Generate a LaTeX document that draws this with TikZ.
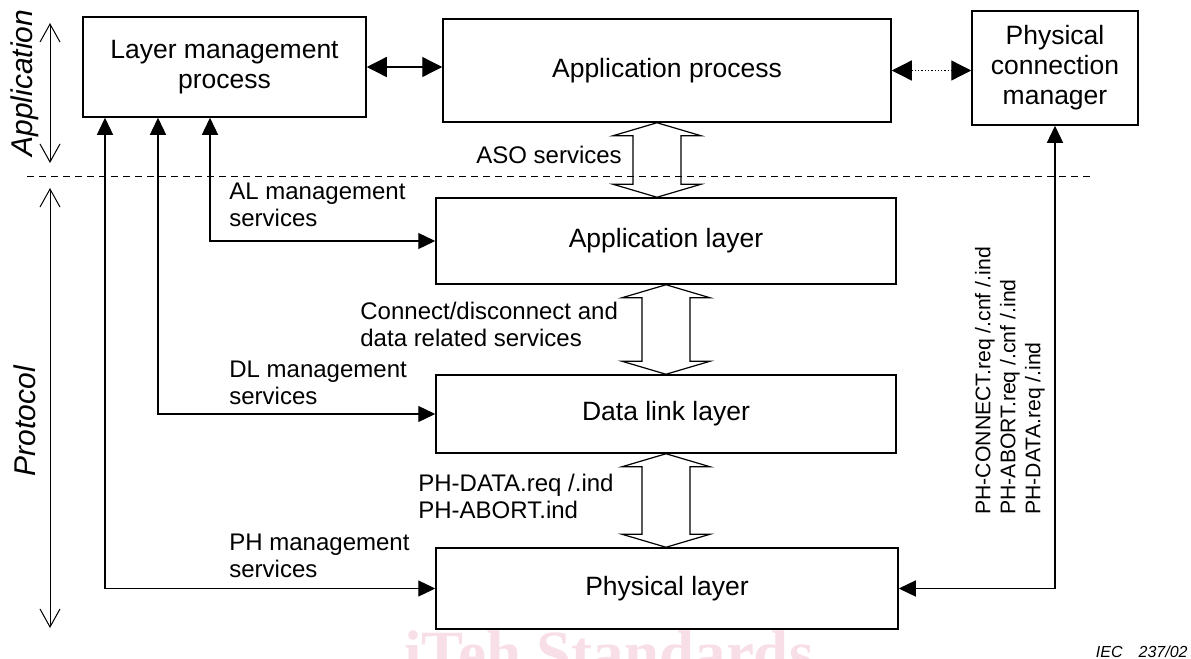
\documentclass[tikz,border=0pt]{standalone}
\usepackage{fontspec}
\setmainfont{Liberation Sans}
\newfontfamily\wmfont{Liberation Serif}
\usetikzlibrary{arrows.meta,calc}

\definecolor{wmpink}{RGB}{248,222,230}

\tikzset{
  box/.style={draw, line width=.75pt, align=center, font=\fontsize{13.25}{15}\selectfont},
  lbl/.style={align=left, inner sep=0pt, anchor=west, font=\fontsize{12}{13.5}\selectfont},
  conn/.style={line width=.65pt, {Triangle[length=8.5pt,width=8pt]}-{Triangle[length=8.5pt,width=8pt]}},
  bigconn/.style={line width=.65pt, {Triangle[length=10pt,width=10pt]}-{Triangle[length=10pt,width=10pt]}},
  side/.style={line width=.5pt, {Straight Barb[length=9pt,width=10pt]}-{Straight Barb[length=9pt,width=10pt]}},
  svcarrow/.style={line width=.6pt},
}

% hollow double arrow between two points (top, bottom)
\newcommand{\servarrow}[2]{%
  \draw[svcarrow] let \p1=(#1), \p2=(#2) in
    (\x1,\y1) -- (\x1+22pt,\y1-6.5pt) -- (\x1+12pt,\y1-6.5pt) -- (\x1+12pt,\y2+6.5pt)
    -- (\x1+22pt,\y2+6.5pt) -- (\x1,\y2) -- (\x1-22pt,\y2+6.5pt) -- (\x1-12pt,\y2+6.5pt)
    -- (\x1-12pt,\y1-6.5pt) -- (\x1-22pt,\y1-6.5pt) -- cycle;}

\begin{document}
\begin{tikzpicture}[x=.5pt,y=-.5pt]
\useasboundingbox (0,0) rectangle (1191,659);
\node[text=wmpink, font=\wmfont\bfseries\fontsize{31.5}{32}\selectfont, anchor=base] (wm) at (609,674) {iTeh Standards};

\node[box, minimum width=141.5pt, minimum height=50pt] (lmp) at (224.5,67) {Layer management\\process};
\node[box, minimum width=224pt, minimum height=51.5pt] (ap) at (667,70.5) {Application process};
\node[box, minimum width=83pt, minimum height=57pt] (pcm) at (1055,68) {Physical\\connection\\manager};
\node[box, minimum width=230pt, minimum height=43pt] (al) at (666,241) {Application layer};
\node[box, minimum width=230pt, minimum height=39pt] (dl) at (666,414) {Data link layer};
\node[box, minimum width=231pt, minimum height=40.5pt] (pl) at (667,588.5) {Physical layer};

% left side
\coordinate (appT) at (50,23);
\coordinate (appB) at (50,163);
\coordinate (proT) at (50,188);
\coordinate (proB) at (50,628);
\draw[side] (appT) -- (appB);
\draw[side] (proT) -- (proB);
\node[rotate=90, font=\fontsize{15}{17}\selectfont\itshape] (appl) at (25,83) {Application};
\node[rotate=90, font=\fontsize{15}{17}\selectfont\itshape] (prol) at (25,421) {Protocol};

% management services
\coordinate (almx) at (210,0);
\coordinate (dlmx) at (158,0);
\coordinate (phmx) at (105,0);
\draw[conn] (lmp.south -| almx) |- (al.west);
\draw[conn] (lmp.south -| dlmx) |- (dl.west);
\draw[conn] (lmp.south -| phmx) |- (pl.west);
\draw[conn] (pcm.south) |- (pl.east);
\draw[bigconn] (lmp.east) -- (lmp.east -| ap.west);
\draw[bigconn, densely dotted] (ap.east) -- (ap.east -| pcm.west);

% service arrows
\coordinate (asox) at (657,0);
\servarrow{ap.south -| asox}{al.north -| asox}
\servarrow{al.south}{dl.north}
\servarrow{dl.south}{pl.north}

\coordinate (sepL) at (27,176);
\coordinate (sepR) at (1090,176);
\draw[line width=.5pt, dash pattern=on 3.5pt off 2.5pt] (sepL) -- (sepR);

\node[lbl] (aso) at (476,155) {ASO services};
\node[lbl] (alm) at (229,205) {AL management\\services};
\node[lbl] (cds) at (360,324) {Connect/disconnect and\\data related services};
\node[lbl] (dlm) at (229,382.5) {DL management\\services};
\node[lbl] (phd) at (418,496) {PH-DATA.req /.ind\\PH-ABORT.ind};
\node[lbl] (phm) at (229,556) {PH management\\services};
\node[rotate=90, align=left, anchor=west, inner sep=0pt, font=\fontsize{10.6}{12.5}\selectfont] (phs) at (1010,515) {PH-CONNECT.req /.cnf /.ind\\PH-ABORT.req /.cnf /.ind\\PH-DATA.req /.ind};
\node[anchor=east, inner sep=0pt, font=\fontsize{8}{9}\selectfont\itshape] (iec) at (1188,652) {IEC\hspace{8pt}237/02};
\end{tikzpicture}
\end{document}
